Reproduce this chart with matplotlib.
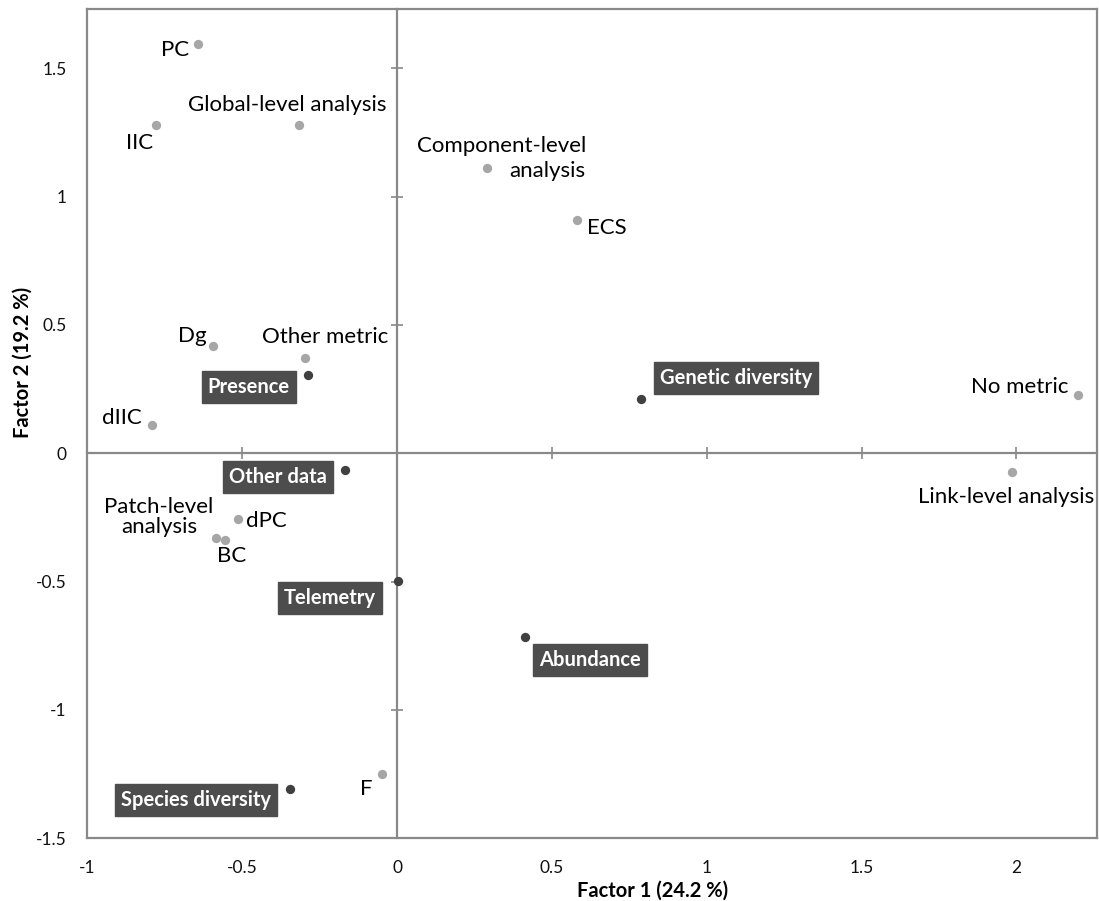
import matplotlib

matplotlib.use('Agg')

import matplotlib.pyplot as plt

plt.rcParams['font.family'] = ['Lato', 'DejaVu Sans']

# MCA coordinates
names = ["PC", "IIC", "Global-level analysis", "Component-level analysis", "ECS",
         "Dg", "Other metric", "Presence", "dIIC", "Genetic diversity",
         "No metric", "Link-level analysis", "Other data", "dPC",
         "Patch-level analysis", "BC", "Telemetry", "Abundance", "F",
         "Species diversity"]
factor1 = [-0.643, -0.779, -0.317, 0.291, 0.582,
           -0.594, -0.297, -0.288, -0.792, 0.788,
           2.200, 1.987, -0.168, -0.514,
           -0.585, -0.556, 0.003, 0.414, -0.048,
           -0.346]
factor2 = [1.595, 1.279, 1.279, 1.111, 0.908,
           0.417, 0.370, 0.304, 0.109, 0.211,
           0.226, -0.074, -0.066, -0.257,
           -0.331, -0.339, -0.499, -0.717, -1.251,
           -1.310]
data_types = ["Presence", "Genetic diversity", "Other data", "Telemetry",
              "Abundance", "Species diversity"]

x_ticks = [-1, -0.5, 0, 0.5, 1, 1.5, 2]
x_tick_labels = ["-1", "-0.5", "0", "0.5", "1", "1.5", "2"]
y_ticks = [-1.5, -1, -0.5, 0, 0.5, 1, 1.5]
y_tick_labels = ["-1.5", "-1", "-0.5", "0", "0.5", "1", "1.5"]

# label text pieces and pixel offsets from the point
label_pos = {
    "PC": [("PC", -23, -6)],
    "IIC": [("IIC", -16, -18)],
    "Global-level analysis": [("Global-level analysis", -12, 20)],
    "Component-level analysis": [("Component-level", 14, 22), ("analysis", 60, -3)],
    "ECS": [("ECS", 30, -8)],
    "Dg": [("Dg", -21, 10)],
    "Other metric": [("Other metric", 20, 21)],
    "Presence": [("Presence", -59, -12)],
    "dIIC": [("dIIC", -30, 7)],
    "Genetic diversity": [("Genetic diversity", 95, 21)],
    "No metric": [("No metric", -58, 8)],
    "Link-level analysis": [("Link-level analysis", -6, -25)],
    "Other data": [("Other data", -67, -7)],
    "dPC": [("dPC", 28, -2)],
    "Patch-level analysis": [("Patch-level\nanalysis", -57, 21)],
    "BC": [("BC", 7, -16)],
    "Telemetry": [("Telemetry", -68, -17)],
    "Abundance": [("Abundance", 65, -23)],
    "F": [("F", -16, -15)],
    "Species diversity": [("Species diversity", -94, -11)],
}

gray = "#898989"
xlim = (-1, 2.26)
ylim = (-1.5, 1.73)

fig = plt.figure(figsize=(10.99, 9.01), dpi=100)
rect = [0.0796, 0.0699, 0.9184, 0.9196]

# outer frame with tick labels
ax = fig.add_axes(rect)
ax.set_xlim(xlim)
ax.set_ylim(ylim)
ax.set_xticks(x_ticks)
ax.set_xticklabels(x_tick_labels)
ax.set_yticks(y_ticks)
ax.set_yticklabels(y_tick_labels)
ax.tick_params(length=0, labelsize=12.5, colors="#111111")
ax.tick_params(axis='x', pad=16)
ax.tick_params(axis='y', pad=15)
for s in ax.spines.values():
    s.set_color(gray)
    s.set_linewidth(1.6)
ax.set_xlabel("Factor 1 (24.2 %)", fontsize=14.5, fontweight="bold")
ax.set_ylabel("Factor 2 (19.2 %)", fontsize=14.5, fontweight="bold")
ax.xaxis.set_label_coords((653 - 87.5) / 1009.5, -(881 - 838) / 828.5)
ax.yaxis.set_label_coords(-(87.5 - 33) / 1009.5, (838 - 362) / 828.5)

# zero axes with cross ticks
ax2 = fig.add_axes(rect)
ax2.patch.set_visible(False)
ax2.set_xlim(xlim)
ax2.set_ylim(ylim)
ax2.spines['top'].set_visible(False)
ax2.spines['right'].set_visible(False)
ax2.spines['left'].set_position(('data', 0))
ax2.spines['bottom'].set_position(('data', 0))
for s in ['left', 'bottom']:
    ax2.spines[s].set_color(gray)
    ax2.spines[s].set_linewidth(1.6)
ax2.set_xticks([t for t in x_ticks if t != 0])
ax2.set_yticks([t for t in y_ticks if t != 0])
ax2.tick_params(direction='inout', length=8, width=1.2, color=gray,
                labelleft=False, labelbottom=False)

for name, x, y in zip(names, factor1, factor2):
    dark = name in data_types
    ax2.scatter(x, y, s=45, color="#404040" if dark else "#a6a6a6",
                zorder=4, linewidths=0)
    for txt, dx, dy in label_pos[name]:
        if dark:
            ax2.annotate(txt, (x, y), xytext=(dx, dy), textcoords='offset pixels',
                         ha='center', va='center', fontsize=14.5, fontweight='bold',
                         color='white', zorder=5,
                         bbox=dict(boxstyle='square,pad=0.3', fc='#4d4d4d',
                                   ec='#4d4d4d'))
        else:
            ax2.annotate(txt, (x, y), xytext=(dx, dy), textcoords='offset pixels',
                         ha='center', va='center', fontsize=16, color='#000000',
                         zorder=5, multialignment='center', linespacing=1.0)

plt.savefig("out.png", dpi=100)
